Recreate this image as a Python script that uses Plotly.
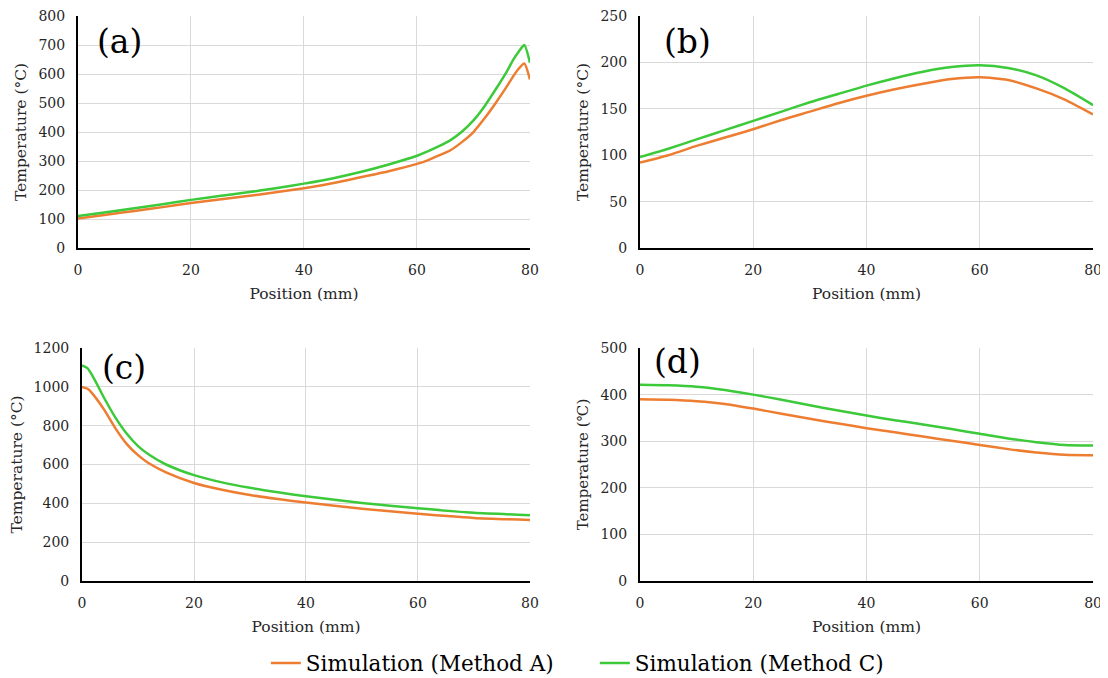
import plotly.graph_objects as go

FONT = "DejaVu Serif"
ORANGE = "#ED7D31"
GREEN = "#3CC93A"

# Panel (a)
a_x = [0, 5, 10, 15, 20, 25, 30, 35, 40, 45, 50, 55, 60, 62, 64, 66, 68, 70, 72, 74, 76, 77, 78, 79, 80]
a_A = [102, 115, 128, 141, 155, 167, 179, 192, 206, 223, 244, 265, 290, 303, 320, 338, 366, 400, 448, 502, 560, 591, 618, 636, 581]
a_C = [110, 123, 137, 151, 166, 179, 192, 206, 222, 240, 262, 288, 318, 334, 352, 373, 402, 440, 490, 549, 612, 648, 677, 700, 639]

# Panel (b)
b_x = [0, 5, 10, 15, 20, 25, 30, 35, 40, 45, 50, 55, 60, 65, 70, 75, 80]
b_A = [92, 100, 110, 119, 128, 138, 147, 156, 164, 171, 177, 182, 184, 181, 172, 160, 144]
b_C = [98, 107, 117, 127, 137, 147, 157, 166, 175, 183, 190, 195, 197, 194, 186, 172, 154]

# Panel (c)
c_x = [0, 1, 2, 4, 6, 8, 10, 12, 15, 20, 25, 30, 35, 40, 50, 60, 70, 80]
c_A = [1000, 990, 960, 880, 785, 705, 648, 605, 560, 505, 470, 443, 422, 404, 372, 346, 325, 314]
c_C = [1110, 1095, 1050, 940, 840, 758, 695, 650, 600, 545, 508, 480, 457, 436, 402, 374, 351, 339]

# Panel (d)
d_x = [0, 5, 10, 15, 20, 25, 30, 35, 40, 45, 50, 55, 60, 65, 70, 75, 80]
d_A = [390, 389, 386, 380, 370, 359, 348, 338, 328, 319, 310, 301, 292, 283, 276, 271, 270]
d_C = [421, 420, 417, 410, 400, 389, 377, 366, 355, 345, 336, 326, 316, 306, 298, 292, 291]

x_ticks = [0, 20, 40, 60, 80]
names = ["Simulation (Method A)", "Simulation (Method C)"]

panels = [
    dict(x=a_x, A=a_A, C=a_C, xd=[0.0636, 0.4745], yd=[0.6460, 0.9882], ymax=800, dy=100,
         label="(a)", lx=0.0791, ly=0.9513, ytitle="Temperature (°C)", ytsize=15.5),
    dict(x=b_x, A=b_A, C=b_C, xd=[0.5745, 0.9864], yd=[0.6460, 0.9882], ymax=250, dy=50,
         label="(b)", lx=0.5945, ly=0.9513, ytitle="Temperature (°C)", ytsize=15.5),
    dict(x=c_x, A=c_A, C=c_C, xd=[0.0673, 0.4745], yd=[0.1549, 0.4985], ymax=1200, dy=200,
         label="(c)", lx=0.0836, ly=0.4705, ytitle="Temperature (°C)", ytsize=15.5),
    dict(x=d_x, A=d_A, C=d_C, xd=[0.5745, 0.9864], yd=[0.1549, 0.4985], ymax=500, dy=100,
         label="(d)", lx=0.5855, ly=0.4779, ytitle="Temperature (℃)", ytsize=15),
]

fig = go.Figure()
annotations = []
for i, p in enumerate(panels):
    n = "" if i == 0 else str(i + 1)
    xa, ya = "x" + n, "y" + n
    for key, col, nm in (("A", ORANGE, names[0]), ("C", GREEN, names[1])):
        fig.add_trace(go.Scatter(
            x=p["x"], y=p[key], mode="lines", name=nm,
            line=dict(color=col, width=2.5, shape="spline", smoothing=0.6),
            xaxis=xa, yaxis=ya, showlegend=(i == 0), hoverinfo="skip"))
    common = dict(showgrid=True, gridcolor="#D9D9D9", gridwidth=1, zeroline=False,
                  showline=True, linecolor="#000000", linewidth=2, ticks="",
                  automargin=False, ticklabeloverflow="allow",
                  tickfont=dict(family=FONT, size=14, color="#262626"))
    fig.layout["xaxis" + n] = dict(
        domain=p["xd"], anchor=ya, range=[0, 80], tickvals=x_ticks, ticklabelstandoff=8,
        title=dict(text="Position (mm)", font=dict(family=FONT, size=15.5, color="#262626"), standoff=11),
        **common)
    fig.layout["yaxis" + n] = dict(
        domain=p["yd"], anchor=xa, range=[0, p["ymax"]], dtick=p["dy"], tick0=0, ticklabelstandoff=8,
        title=dict(text=p["ytitle"], font=dict(family=FONT, size=p["ytsize"], color="#262626"), standoff=8),
        **common)
    annotations.append(dict(text=p["label"], x=p["lx"], y=p["ly"], xref="paper", yref="paper",
                            xanchor="left", yanchor="middle", showarrow=False,
                            font=dict(family=FONT, size=33, color="#000000")))

fig.update_layout(
    width=1100, height=678,
    margin=dict(l=0, r=0, t=0, b=0),
    paper_bgcolor="white", plot_bgcolor="white",
    annotations=annotations,
    legend=dict(orientation="h", x=0.5335, xanchor="center", y=0.0339, yanchor="middle",
                font=dict(family=FONT, size=21.5, color="#000000"),
                itemwidth=30, tracegroupgap=0, entrywidth=284, entrywidthmode="pixels"),
)

fig.write_html("out.html")
